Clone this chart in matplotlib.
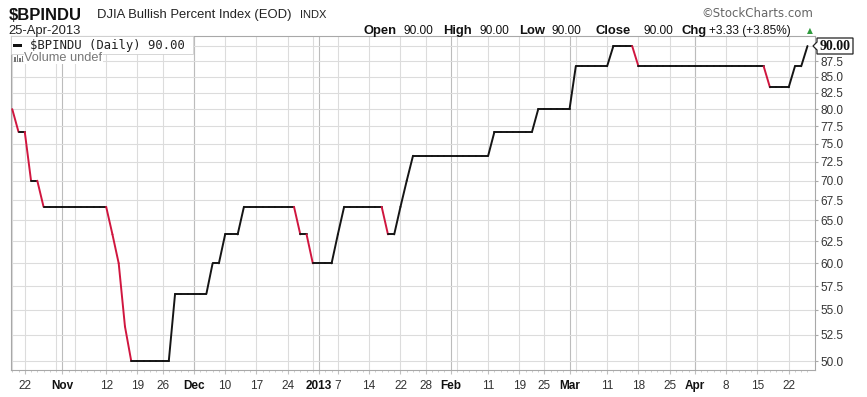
import pandas as pd
import matplotlib
matplotlib.use("Agg")
import matplotlib.pyplot as plt
from matplotlib.collections import LineCollection
from matplotlib.patches import Rectangle, Polygon
from matplotlib.ticker import NullLocator, FixedLocator

# --- Data ---
# trading days 18-Oct-2012 .. 25-Apr-2013 (NYSE closed for Sandy and holidays)
closed_days = ["2012-10-29", "2012-10-30", "2012-11-22", "2012-12-25",
               "2013-01-01", "2013-01-21", "2013-02-18", "2013-03-29"]
dates = pd.bdate_range("2012-10-18", "2013-04-25").drop(pd.to_datetime(closed_days))

# $BPINDU daily close (%)
bpindu = [
    80.00, 76.67, 76.67, 70.00, 70.00,
    66.67, 66.67, 66.67, 66.67, 66.67, 66.67, 66.67, 66.67, 66.67, 66.67, 66.67,
    63.33, 60.00, 53.33,
    50.00, 50.00, 50.00, 50.00, 50.00, 50.00, 50.00,
    56.67, 56.67, 56.67, 56.67, 56.67, 56.67,
    60.00, 60.00,
    63.33, 63.33, 63.33,
    66.67, 66.67, 66.67, 66.67, 66.67, 66.67, 66.67, 66.67, 66.67,
    63.33, 63.33,
    60.00, 60.00, 60.00, 60.00,
    63.33,
    66.67, 66.67, 66.67, 66.67, 66.67, 66.67, 66.67,
    63.33, 63.33,
    66.67, 70.00,
    73.33, 73.33, 73.33, 73.33, 73.33, 73.33, 73.33, 73.33, 73.33, 73.33, 73.33, 73.33, 73.33,
    76.67, 76.67, 76.67, 76.67, 76.67, 76.67, 76.67,
    80.00, 80.00, 80.00, 80.00, 80.00, 80.00,
    86.67, 86.67, 86.67, 86.67, 86.67, 86.67,
    90.00, 90.00, 90.00, 90.00,
    86.67, 86.67, 86.67, 86.67, 86.67, 86.67, 86.67, 86.67, 86.67, 86.67, 86.67,
    86.67, 86.67, 86.67, 86.67, 86.67, 86.67, 86.67, 86.67, 86.67, 86.67,
    83.33, 83.33, 83.33, 83.33,
    86.67, 86.67,
    90.00,
]

tick_dates = ["2012-10-22", "2012-11-01", "2012-11-12", "2012-11-19", "2012-11-26",
              "2012-12-03", "2012-12-10", "2012-12-17", "2012-12-24", "2013-01-02",
              "2013-01-07", "2013-01-14", "2013-01-22", "2013-01-28", "2013-02-01",
              "2013-02-11", "2013-02-19", "2013-02-25", "2013-03-01", "2013-03-11",
              "2013-03-18", "2013-03-25", "2013-04-01", "2013-04-08", "2013-04-15",
              "2013-04-22"]
tick_labels = ["22", "Nov", "12", "19", "26", "Dec", "10", "17", "24", "2013",
               "7", "14", "22", "28", "Feb", "11", "19", "25", "Mar", "11",
               "18", "25", "Apr", "8", "15", "22"]
bold_labels = ["Nov", "Dec", "2013", "Feb", "Mar", "Apr"]

y_ticks = [50, 52.5, 55, 57.5, 60, 62.5, 65, 67.5, 70, 72.5, 75, 77.5, 80, 82.5, 85, 87.5]

plt.rcParams["font.family"] = ["Liberation Sans", "DejaVu Sans"]

W, H = 867, 397
fig = plt.figure(figsize=(W / 100, H / 100), dpi=100)
fig.patch.set_facecolor("white")


def fx(x):
    return x / W


def fy(y):
    return 1 - y / H


ax = fig.add_axes([fx(11), fy(370), fx(815) - fx(11), fy(36) - fy(370)])
ax.set_yscale("log")

x = list(range(len(dates)))

# grid: weekly (first trading day of week) and monthly lines
week_first = [i for i in x if i == 0 or dates[i].isocalendar()[1] != dates[i - 1].isocalendar()[1]]
month_first = [i for i in x if i > 0 and dates[i].month != dates[i - 1].month]
for i in week_first:
    ax.axvline(i, color="#dcdcdc", lw=0.8, zorder=0)
for i in month_first:
    ax.axvline(i, color="#bcbcbc", lw=0.8, zorder=0)
for v in y_ticks + [90]:
    ax.axhline(v, color="#dcdcdc", lw=0.8, zorder=0)

# price line, red where the close fell
segs = [[(x[i - 1], bpindu[i - 1]), (x[i], bpindu[i])] for i in range(1, len(x))]
cols = ["#d0163f" if bpindu[i] < bpindu[i - 1] else "#151515" for i in range(1, len(x))]
ax.add_collection(LineCollection(segs, colors=cols, linewidths=1.4, capstyle="round",
                                 joinstyle="round", zorder=3))

ax.set_xlim(-0.2, 128.2)
ax.set_ylim(49.17, 91.7)

# axes styling
for s in ax.spines.values():
    s.set_color("#a8a8a8")
    s.set_linewidth(0.8)

ax.yaxis.set_major_locator(FixedLocator(y_ticks))
ax.yaxis.set_minor_locator(NullLocator())
ax.set_yticklabels([f"{v:.1f}" for v in y_ticks])
ax.yaxis.tick_right()
ax.tick_params(axis="y", which="major", length=2, pad=2, labelsize=8.5,
               colors="#a8a8a8", labelcolor="#333333")

tick_pos = [dates.get_loc(pd.Timestamp(d)) for d in tick_dates]
ax.set_xticks(tick_pos)
ax.set_xticklabels(tick_labels)
ax.xaxis.set_minor_locator(FixedLocator(x))
ax.tick_params(axis="x", which="major", length=3, pad=4, labelsize=8.5,
               colors="#c0c0c0", labelcolor="#333333")
ax.tick_params(axis="x", which="minor", length=1.5, colors="#c8c8c8")
for lab in ax.get_xticklabels():
    if lab.get_text() in bold_labels:
        lab.set_fontweight("bold")
        lab.set_color("#111111")

# last value tag
tag = [(813, 46), (817, 42), (817, 38), (853, 38), (853, 54), (817, 54), (817, 50)]
fig.add_artist(Polygon([(fx(px), fy(py)) for px, py in tag], closed=True, fc="white",
                       ec="#222222", lw=0.9))
fig.text(fx(835.5), fy(46), "90.00", ha="center", va="center", fontsize=10,
         fontweight="bold", family=["Liberation Serif"], color="#111111")

# legend box
ax.add_patch(Rectangle((0, 1), 0.226, -0.055, transform=ax.transAxes, fc="white",
                       ec="#d0d0d0", lw=0.6, zorder=4))
fig.add_artist(Rectangle((fx(13), fy(46.5)), fx(9), 2.4 / H, fc="#111111", ec="none"))
fig.text(fx(30), fy(45.5), "$BPINDU (Daily) 90.00", fontsize=8.8,
         family=["DejaVu Sans Mono"], color="#222222", va="center", ha="left", zorder=5)
for bx, bh in [(14, 5), (16.5, 7), (19, 4), (21.5, 6)]:
    fig.add_artist(Rectangle((fx(bx), fy(62)), fx(1.6), bh / H, fc="#777777", ec="none"))
fig.text(fx(24), fy(58), "Volume undef", fontsize=9.2, color="#777777", va="center",
         ha="left", zorder=5, bbox=dict(fc="white", ec="none", pad=0.3))

# header
fig.text(fx(9), fy(20), "$BPINDU", fontsize=12, fontweight="bold", color="#111111",
         va="baseline")
fig.text(fx(97), fy(18), "DJIA Bullish Percent Index (EOD)", fontsize=9.4,
         color="#222222", va="baseline")
fig.text(fx(300), fy(18), "INDX", fontsize=8, color="#222222", va="baseline")
fig.text(fx(8), fy(34), "25-Apr-2013", fontsize=9.4, color="#222222", va="baseline")
fig.text(fx(813), fy(17), "\u00a9StockCharts.com", fontsize=8.5, color="#666666",
         ha="right", va="baseline", family=["DejaVu Sans"])

quote = [(363, "Open", True), (403, "90.00", False), (443, "High", True),
         (479, "90.00", False), (519, "Low", True), (551, "90.00", False),
         (596, "Close", True), (643, "90.00", False), (681, "Chg", True),
         (709, "+3.33 (+3.85%)", False)]
for qx, qt, qb in quote:
    fig.text(fx(qx), fy(34), qt, fontsize=9.4 if qb else 8.6,
             fontweight="bold" if qb else "normal", color="#111111", va="baseline")
fig.text(fx(810), fy(33), "\u25b2", fontsize=5.5, color="#2e9a3c", ha="center",
         va="baseline", family=["DejaVu Sans"])

fig.savefig("out.png", dpi=100)
